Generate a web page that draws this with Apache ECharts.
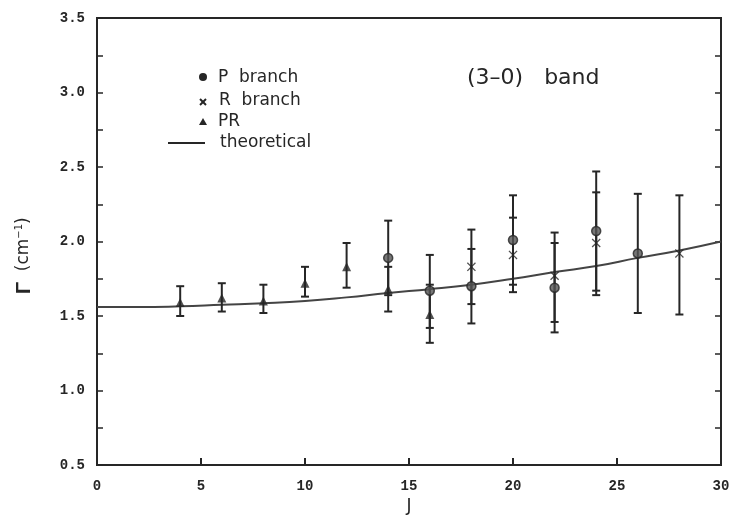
<!DOCTYPE html>
<html>
<head>
<meta charset="utf-8">
<script src="https://cdn.jsdelivr.net/npm/echarts@6/dist/echarts.min.js"></script>
<style>
  html, body { margin: 0; padding: 0; background: #fff; }
  #chart { width: 731px; height: 517px; }
</style>
</head>
<body>
<div id="chart"></div>
<script>
// Linewidth Γ versus rotational quantum number J, (3-0) band

// P branch: value with lower / upper error limits
const pJ    = [14,   16,   18,   20,   22,   24,   26];
const pVal  = [1.89, 1.67, 1.70, 2.01, 1.69, 2.07, 1.92];
const pLow  = [1.64, 1.42, 1.45, 1.71, 1.39, 1.67, 1.52];
const pHigh = [2.14, 1.91, 1.95, 2.31, 1.99, 2.47, 2.32];

// R branch
const rJ    = [18,   20,   22,   24,   28];
const rVal  = [1.83, 1.91, 1.77, 1.99, 1.92];
const rLow  = [1.58, 1.66, 1.46, 1.64, 1.51];
const rHigh = [2.08, 2.16, 2.06, 2.33, 2.31];

// PR points
const prJ    = [4,    6,    8,    10,   12,   14,   16];
const prVal  = [1.59, 1.62, 1.60, 1.72, 1.83, 1.68, 1.51];
const prLow  = [1.50, 1.53, 1.52, 1.63, 1.69, 1.53, 1.32];
const prHigh = [1.70, 1.72, 1.71, 1.83, 1.99, 1.83, 1.71];

// Theoretical curve
const thJ   = [0,    2,    4,     6,     8,     10,   12,    14,    16,   18,   20,   22,    24,    26,   28,   30];
const thVal = [1.56, 1.56, 1.565, 1.575, 1.585, 1.60, 1.625, 1.655, 1.68, 1.71, 1.75, 1.795, 1.835, 1.89, 1.94, 2.00];

// Axis ticks
const xTicks = [0, 5, 10, 15, 20, 25, 30];
const yTicks = [0.5, 1.0, 1.5, 2.0, 2.5, 3.0, 3.5];

const INK = '#262626';
const TEXT_FONT = 'DejaVu Sans';
const CROSS = 'path://M1,0L5,4L9,0L10,1L6,5L10,9L9,10L5,6L1,10L0,9L4,5L0,1Z';

function zip3(a, b, c) { return a.map((v, i) => [v, b[i], c[i]]); }
function zip2(a, b) { return a.map((v, i) => [v, b[i]]); }

function errorBars(name, js, lows, highs) {
  return {
    type: 'custom',
    name: name + ' error',
    data: zip3(js, lows, highs),
    encode: { x: 0, y: [1, 2] },
    z: 3,
    silent: true,
    renderItem: function (params, api) {
      const x = api.value(0);
      const lo = api.coord([x, api.value(1)]);
      const hi = api.coord([x, api.value(2)]);
      const cap = 4;
      const style = { stroke: INK, lineWidth: 2 };
      return {
        type: 'group',
        children: [
          { type: 'line', shape: { x1: lo[0], y1: lo[1], x2: hi[0], y2: hi[1] }, style: style },
          { type: 'line', shape: { x1: lo[0] - cap, y1: lo[1], x2: lo[0] + cap, y2: lo[1] }, style: style },
          { type: 'line', shape: { x1: hi[0] - cap, y1: hi[1], x2: hi[0] + cap, y2: hi[1] }, style: style }
        ]
      };
    }
  };
}

const labelFont = { fontFamily: 'Liberation Mono', fontWeight: 'bold', fontSize: 14, color: INK };

const chart = echarts.init(document.getElementById('chart'), null, { renderer: 'canvas' });

chart.setOption({
  backgroundColor: '#fff',
  animation: false,
  grid: {
    left: 97, right: 10, top: 18, bottom: 52,
    outerBoundsMode: 'none', containLabel: false,
    show: true, borderColor: INK, borderWidth: 2, backgroundColor: 'transparent'
  },
  xAxis: [{
    type: 'value', min: xTicks[0], max: xTicks[xTicks.length - 1], interval: 5,
    axisLine: { show: true, lineStyle: { color: INK, width: 2 } },
    axisTick: { show: true, inside: true, length: 7, lineStyle: { color: INK, width: 2 } },
    axisLabel: Object.assign({ margin: 14 }, labelFont),
    splitLine: { show: false },
    name: 'J', nameLocation: 'middle', nameGap: 32,
    nameTextStyle: { fontFamily: TEXT_FONT, fontSize: 17, color: INK }
  }],
  yAxis: [{
    type: 'value', min: yTicks[0], max: yTicks[yTicks.length - 1], interval: 0.5,
    axisLine: { show: true, lineStyle: { color: INK, width: 2 } },
    axisTick: { show: true, inside: true, length: 6, lineStyle: { color: INK, width: 1.5 } },
    minorTick: { show: true, splitNumber: 2, length: 6, lineStyle: { color: INK, width: 1.5 } },
    axisLabel: Object.assign({ margin: 12, formatter: v => v.toFixed(1) }, labelFont),
    splitLine: { show: false }
  }, {
    type: 'value', position: 'right', min: yTicks[0], max: yTicks[yTicks.length - 1], interval: 0.5,
    axisLine: { show: true, lineStyle: { color: INK, width: 2 } },
    axisTick: { show: true, inside: true, length: 6, lineStyle: { color: INK, width: 1.5 } },
    minorTick: { show: true, splitNumber: 2, length: 6, lineStyle: { color: INK, width: 1.5 } },
    axisLabel: { show: false },
    splitLine: { show: false }
  }],
  series: [
    {
      type: 'line', name: 'theoretical', data: zip2(thJ, thVal), smooth: true,
      showSymbol: false, lineStyle: { color: '#444', width: 2 }, z: 2, silent: true
    },
    errorBars('P branch', pJ, pLow, pHigh),
    errorBars('R branch', rJ, rLow, rHigh),
    errorBars('PR', prJ, prLow, prHigh),
    {
      type: 'scatter', name: 'P branch', data: zip2(pJ, pVal),
      symbol: 'circle', symbolSize: 9, z: 4,
      itemStyle: { color: '#555', borderColor: INK, borderWidth: 1.5 }
    },
    {
      type: 'scatter', name: 'R branch', data: zip2(rJ, rVal),
      symbol: CROSS, symbolSize: 9, z: 4,
      itemStyle: { color: INK }
    },
    {
      type: 'scatter', name: 'PR', data: zip2(prJ, prVal),
      symbol: 'triangle', symbolSize: 9, z: 4,
      itemStyle: { color: INK }
    }
  ],
  graphic: [
    // legend
    { type: 'circle', shape: { cx: 203, cy: 77, r: 4 }, style: { fill: INK } },
    { type: 'text', x: 218, y: 78, style: { text: 'P  branch', fontFamily: TEXT_FONT, fontSize: 17, fill: INK, verticalAlign: 'middle' } },
    { type: 'line', shape: { x1: 200, y1: 99, x2: 206, y2: 105 }, style: { stroke: INK, lineWidth: 2 } },
    { type: 'line', shape: { x1: 206, y1: 99, x2: 200, y2: 105 }, style: { stroke: INK, lineWidth: 2 } },
    { type: 'text', x: 219, y: 101, style: { text: 'R  branch', fontFamily: TEXT_FONT, fontSize: 17, fill: INK, verticalAlign: 'middle' } },
    { type: 'polygon', shape: { points: [[203, 118], [207, 125], [199, 125]] }, style: { fill: INK } },
    { type: 'text', x: 218, y: 122, style: { text: 'PR', fontFamily: TEXT_FONT, fontSize: 17, fill: INK, verticalAlign: 'middle' } },
    { type: 'line', shape: { x1: 168, y1: 143, x2: 205, y2: 143 }, style: { stroke: INK, lineWidth: 2 } },
    { type: 'text', x: 220, y: 143, style: { text: 'theoretical', fontFamily: TEXT_FONT, fontSize: 17, fill: INK, verticalAlign: 'middle' } },
    // band label
    { type: 'text', x: 467, y: 78, style: { text: '(3\u20130)   band', fontFamily: TEXT_FONT, fontSize: 22, fill: INK, verticalAlign: 'middle' } },
    // y-axis title, reads bottom to top
    {
      type: 'text', x: 24, y: 294, rotation: Math.PI / 2,
      style: {
        text: '{g|\u0393}  (cm{s|\u22121})',
        fontFamily: TEXT_FONT, fontSize: 17, fill: INK, verticalAlign: 'middle',
        rich: {
          g: { fontFamily: 'Liberation Sans', fontWeight: 'bold', fontSize: 20, fill: INK },
          s: { fontFamily: TEXT_FONT, fontSize: 10, fill: INK, verticalAlign: 'top', padding: [0, 0, 9, 0] }
        }
      }
    }
  ]
});
</script>
</body>
</html>
